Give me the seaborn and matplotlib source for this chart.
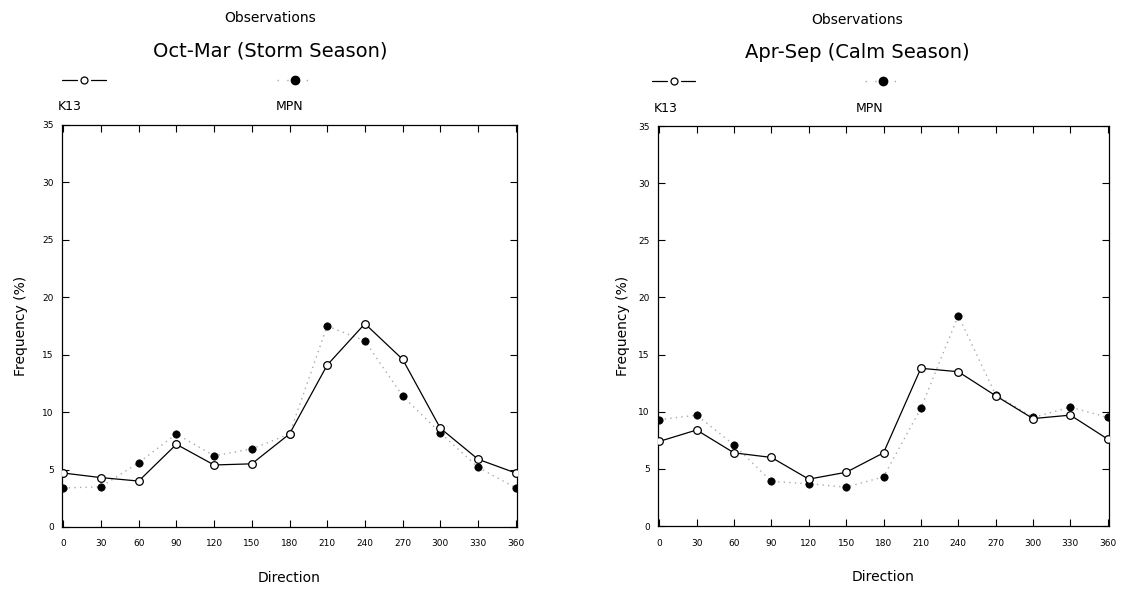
import numpy as np
import pandas as pd
import matplotlib
matplotlib.use("Agg")
import matplotlib.pyplot as plt
import seaborn as sns
from matplotlib.lines import Line2D

direction = [0, 30, 60, 90, 120, 150, 180, 210, 240, 270, 300, 330, 360]
xtick_labels = ["0", "30", "60", "90", "120", "150", "180", "210", "240", "270", "300", "330", "360"]

k13_storm = [4.7, 4.3, 4.0, 7.2, 5.4, 5.5, 8.1, 14.1, 17.7, 14.6, 8.6, 5.9, 4.7]
mpn_storm = [3.4, 3.5, 5.6, 8.1, 6.2, 6.8, 8.1, 17.5, 16.2, 11.4, 8.2, 5.2, 3.4]
k13_calm = [7.4, 8.4, 6.4, 6.0, 4.1, 4.7, 6.4, 13.8, 13.5, 11.4, 9.4, 9.7, 7.6]
mpn_calm = [9.3, 9.7, 7.1, 3.9, 3.7, 3.4, 4.3, 10.3, 18.4, 11.5, 9.5, 10.4, 9.5]

titles = ["Oct-Mar (Storm Season)", "Apr-Sep (Calm Season)"]

sns.set_style("ticks")
plt.rcParams["font.family"] = ["DejaVu Sans"]
plt.rcParams["text.color"] = "black"
plt.rcParams["axes.labelcolor"] = "black"
plt.rcParams["xtick.color"] = "black"
plt.rcParams["ytick.color"] = "black"
plt.rcParams["axes.edgecolor"] = "black"

fig = plt.figure(figsize=(11.26, 5.89), dpi=100)
W, H = 1126, 589
boxes = [(62, 125, 517, 527), (658, 126, 1109, 526)]
title_x = [0.457, 0.441]
open_x = [0.048, 0.035]
dot_x = [0.512, 0.498]
mpn_x = [0.50, 0.47]
ylabel_pad = [10, 6]

for i, (k13, mpn) in enumerate([(k13_storm, mpn_storm), (k13_calm, mpn_calm)]):
    x0, y0, x1, y1 = boxes[i]
    ax = fig.add_axes([x0 / W, 1 - y1 / H, (x1 - x0) / W, (y1 - y0) / H])
    df = pd.DataFrame({"Direction": direction, "K13": k13, "MPN": mpn})
    sns.lineplot(data=df, x="Direction", y="MPN", ax=ax, color="#aaaaaa",
                 linestyle=(0, (1, 3)), linewidth=1.0)
    sns.scatterplot(data=df, x="Direction", y="MPN", ax=ax, color="black",
                    s=28, edgecolor="black", linewidth=0.5, zorder=3)
    sns.lineplot(data=df, x="Direction", y="K13", ax=ax, color="black",
                 linewidth=0.9, marker="o", markersize=5.5, markerfacecolor="white",
                 markeredgecolor="black", markeredgewidth=0.9, zorder=4)
    ax.set_xlim(-1, 361)
    ax.set_ylim(0, 35)
    ax.set_xticks(direction)
    ax.set_xticklabels(xtick_labels)
    ax.set_yticks([0, 5, 10, 15, 20, 25, 30, 35])
    ax.tick_params(direction="in", length=5, width=0.8, labelsize=6.5,
                   top=True, right=True)
    ax.tick_params(axis="x", pad=9)
    ax.tick_params(axis="y", pad=6)
    for s in ax.spines.values():
        s.set_linewidth(0.9)
        s.set_visible(True)
    ax.set_xlabel("Direction", fontsize=10, labelpad=16)
    ax.set_ylabel("Frequency (%)", fontsize=10, labelpad=ylabel_pad[i])
    # titles
    ax.text(title_x[i], 1.265, "Observations", transform=ax.transAxes,
            ha="center", va="center", fontsize=10)
    ax.text(title_x[i], 1.185, titles[i], transform=ax.transAxes,
            ha="center", va="center", fontsize=14)
    # legend keys
    ax.add_line(Line2D([open_x[i] - 0.048, open_x[i] - 0.015], [1.112, 1.112],
                       transform=ax.transAxes, color="black", linewidth=0.9,
                       clip_on=False))
    ax.add_line(Line2D([open_x[i] + 0.015, open_x[i] + 0.048], [1.112, 1.112],
                       transform=ax.transAxes, color="black", linewidth=0.9,
                       clip_on=False))
    ax.add_line(Line2D([open_x[i]], [1.112], transform=ax.transAxes, marker="o",
                       markersize=5, markerfacecolor="white", markeredgecolor="black",
                       markeredgewidth=0.9, clip_on=False, linestyle="none"))
    ax.add_line(Line2D([dot_x[i] - 0.04, dot_x[i] + 0.04], [1.112, 1.112],
                       transform=ax.transAxes, color="#aaaaaa", linewidth=1.0,
                       linestyle=(0, (1, 6)), clip_on=False))
    ax.add_line(Line2D([dot_x[i]], [1.112], transform=ax.transAxes, marker="o",
                       markersize=6, color="black", clip_on=False, linestyle="none"))
    ax.text(-0.01, 1.045, "K13", transform=ax.transAxes, ha="left",
            va="center", fontsize=9)
    ax.text(mpn_x[i], 1.045, "MPN", transform=ax.transAxes, ha="center",
            va="center", fontsize=9)

fig.savefig("out.png", dpi=100)
